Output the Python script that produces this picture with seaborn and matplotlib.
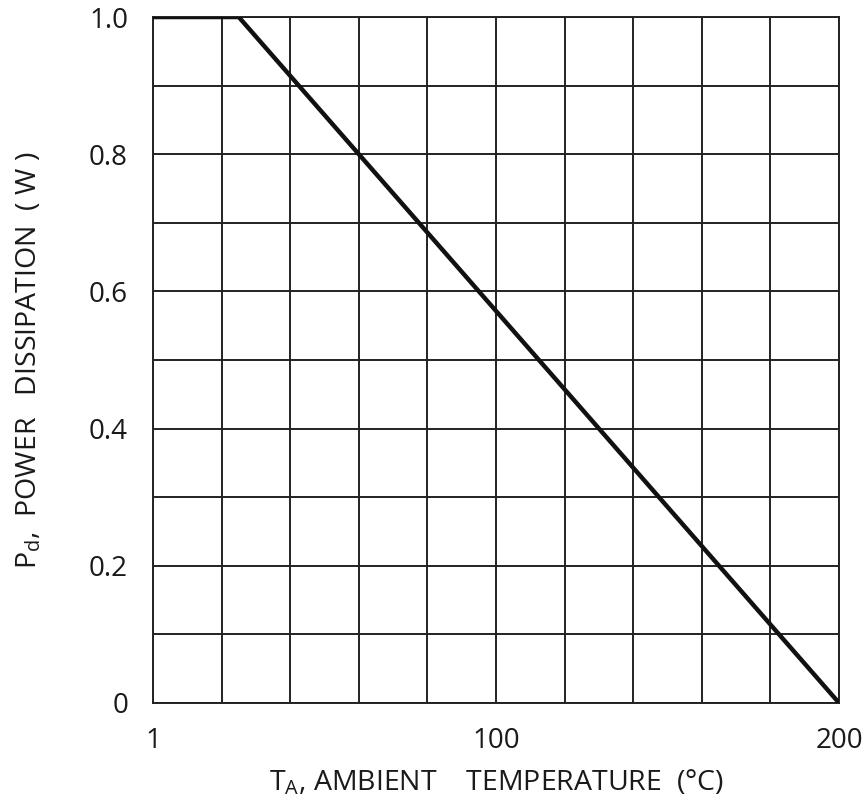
import matplotlib
matplotlib.use("Agg")
import matplotlib.pyplot as plt
import numpy as np
import pandas as pd
import seaborn as sns

# derating curve
temp_c = [0, 25, 200]
power_w = [1.0, 1.0, 0.0]
x_ticks = [0, 100, 200]
x_tick_labels = ["1", "100", "200"]
y_ticks = [0, 0.2, 0.4, 0.6, 0.8, 1.0]
y_tick_labels = ["0", "0.2", "0.4", "0.6", "0.8", "1.0"]

sns.set_style("white")
plt.rcParams["font.family"] = ["Open Sans", "DejaVu Sans"]
plt.rcParams["mathtext.fontset"] = "custom"
plt.rcParams["mathtext.rm"] = "Open Sans"
plt.rcParams["mathtext.it"] = "Open Sans:italic"

df = pd.DataFrame({"temp": temp_c, "power": power_w})

fig = plt.figure(figsize=(8.63, 8.07), dpi=100)
ax = fig.add_axes([0.1773, 0.1289, 0.795, 0.850])

g = sns.lineplot(data=df, x="temp", y="power", color="#111111", linewidth=3.2, ax=ax, zorder=3)

ax.set_xlim(0, 200)
ax.set_ylim(0, 1.0)
ax.set_xticks(np.arange(0, 201, 20), minor=True)
ax.set_yticks(np.arange(0, 1.01, 0.1), minor=True)
ax.set_xticks(x_ticks)
ax.set_xticklabels(x_tick_labels)
ax.set_yticks(y_ticks)
ax.set_yticklabels(y_tick_labels)
ax.grid(True, which="both", color="#222222", linewidth=1.4, zorder=1)
ax.tick_params(axis="both", which="both", length=0, labelsize=20, labelcolor="#1a1a1a")
ax.tick_params(axis="x", pad=17)
ax.tick_params(axis="y", pad=18)
for s in ax.spines.values():
    s.set_color("#222222")
    s.set_linewidth(1.4)

ax.set_xlabel(r"T$_{\mathrm{A}}$, AMBIENT    TEMPERATURE  (°C)", fontsize=20.5, color="#1a1a1a", labelpad=10)
ax.set_ylabel(r"P$_{\mathrm{d}}$,  POWER   DISSIPATION  ( W )", fontsize=20.5, color="#1a1a1a", labelpad=33)

fig.savefig("out.png", dpi=100)
